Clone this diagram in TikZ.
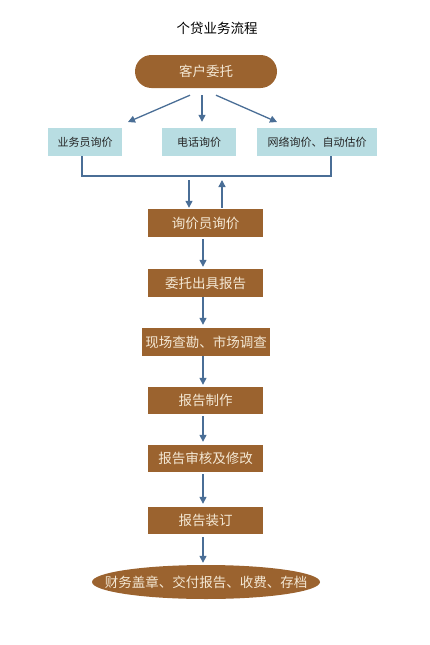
\documentclass[tikz,border=0pt]{standalone}
\usepackage{fontspec}
\newfontfamily\cjk{Noto Sans CJK SC}
\usetikzlibrary{arrows.meta}
\usetikzlibrary{shapes.geometric,shapes.misc}
\definecolor{loanbrown}{HTML}{9B632F}
\definecolor{quoteblue}{HTML}{B8DDE2}
\definecolor{flowblue}{HTML}{4A6E96}
\definecolor{cream}{HTML}{F4E8D4}
\tikzset{
  stepnode/.style={fill=loanbrown, text=cream, font=\cjk\fontsize{13.5}{15}\selectfont,
    minimum width=115pt, minimum height=28pt, inner sep=0pt},
  quote/.style={fill=quoteblue, text=black!85, font=\cjk\fontsize{11}{13}\selectfont,
    minimum width=74pt, minimum height=28pt, inner sep=0pt},
  flow/.style={flowblue, line width=1.3pt, -{Triangle[length=7pt,width=7pt]}},
  bus/.style={flowblue, line width=1.3pt}
}

\begin{document}
\begin{tikzpicture}[x=1pt, y=-1pt]
      \useasboundingbox (0,0) rectangle (429,645);

      \node [font=\cjk\fontsize{13.5}{15}\selectfont] (title) at (217,28) {个贷业务流程};

      \node [stepnode, rounded rectangle, minimum width=142pt, minimum height=33pt] (client) at (206,71.5) {客户委托};

      \node [quote] (sales) at (85,142) {业务员询价};
      \node [quote] (phone) at (199,142) {电话询价};
      \node [quote, minimum width=120pt] (online) at (317,142) {网络询价、自动估价};

      \coordinate (toSales) at (128,122);
      \coordinate (toOnline) at (277,122);
      \draw [flow] ([xshift=-16pt, yshift=-7pt]client.south) -- (toSales);
      \draw [flow] ([xshift=-4pt, yshift=-7pt]client.south) -- ([xshift=3pt, yshift=6pt]phone.north);
      \draw [flow] ([xshift=10pt, yshift=-7pt]client.south) -- (toOnline);

      \coordinate (busL) at (82,176);
      \coordinate (busDown) at (189,180);
      \coordinate (busUp) at (222,180);
      \draw [bus] ([xshift=-3pt]sales.south) -- (busL) -| ([xshift=14pt]online.south);

      \node [stepnode] (inquiry) at (205.5,223) {询价员询价};
      \node [stepnode] (order) at (205.5,283) {委托出具报告};
      \node [stepnode, minimum width=128pt] (survey) at (206,342) {现场查勘、市场调查};
      \node [stepnode, minimum height=27pt] (draft) at (205.5,400.5) {报告制作};
      \node [stepnode, minimum height=27pt] (review) at (205.5,458.5) {报告审核及修改};
      \node [stepnode, minimum height=27pt] (binding) at (205.5,520.5) {报告装订};
      \node [ellipse, fill=loanbrown, minimum width=228pt, minimum height=34pt, inner sep=0pt,
        label={[text=cream, font=\cjk\fontsize{13.5}{15}\selectfont]center:财务盖章、交付报告、收费、存档}] (finish) at (206,582) {};

      \draw [flow] (busDown) -- ([xshift=-16.5pt, yshift=1pt]inquiry.north);
      \draw [flow] ([xshift=16.5pt, yshift=1pt]inquiry.north) -- (busUp);

      \draw [flow, shorten <=2pt, shorten >=2pt] ([xshift=-2.5pt]inquiry.south) -- ([xshift=-2.5pt]order.north);
      \draw [flow, shorten <=0pt, shorten >=3pt] ([xshift=-2.5pt]order.south) -- ([xshift=-3pt]survey.north);
      \draw [flow, shorten >=2pt] ([xshift=-3pt]survey.south) -- ([xshift=-2.5pt]draft.north);
      \draw [flow, shorten <=2pt, shorten >=3pt] ([xshift=-2.5pt]draft.south) -- ([xshift=-2.5pt]review.north);
      \draw [flow, shorten <=2pt, shorten >=3pt] ([xshift=-2.5pt]review.south) -- ([xshift=-2.5pt]binding.north);
      \draw [flow, shorten <=3pt, shorten >=2pt] ([xshift=-2.5pt]binding.south) -- ([xshift=-3pt]finish.north);
    \end{tikzpicture}
\end{document}
